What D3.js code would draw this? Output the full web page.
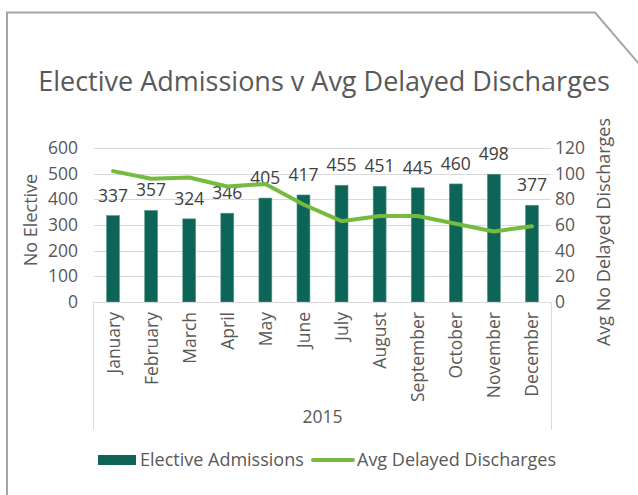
<!DOCTYPE html>
<html>
<head>
<meta charset="utf-8">
<script src="https://cdn.jsdelivr.net/npm/d3@7"></script>
<style>
  html, body { margin: 0; padding: 0; background: #fff; }
  svg { display: block; font-family: "Open Sans", "Noto Sans", sans-serif; }
</style>
</head>
<body>
<div id="chart"></div>
<script>
const months = ["January","February","March","April","May","June","July","August","September","October","November","December"];
const electiveAdmissions = [337,357,324,346,405,417,455,451,445,460,498,377];
const avgDelayedDischarges = [102,96,97,90,92,76,63,67,67,61,55,59];
const leftTicks = [0,100,200,300,400,500,600];
const rightTicks = [0,20,40,60,80,100,120];
const titleText = "Elective Admissions v Avg Delayed Discharges";
const yearLabel = "2015";

const W = 638, H = 495;
const m = { left: 94, right: 551, top: 148, bottom: 302 };
const FS = 17.5;
const textColor = "#595959";

const svg = d3.select("#chart").append("svg").attr("width", W).attr("height", H);

// frame
svg.append("path")
  .attr("d", `M7,${H} L7,12.5 L595,12.5 L639,64`)
  .attr("fill", "none").attr("stroke", "#a6a6a6").attr("stroke-width", 2);

const x = d3.scaleBand().domain(months).range([m.left, m.right]).paddingInner(0.66).paddingOuter(0.33);
const yL = d3.scaleLinear().domain([0, 600]).range([m.bottom, m.top]);
const yR = d3.scaleLinear().domain([0, 120]).range([m.bottom, m.top]);

// title
svg.append("text").attr("x", 324).attr("y", 91).attr("text-anchor", "middle")
  .attr("font-size", 27).attr("fill", textColor).text(titleText);

// gridlines
svg.append("g").selectAll("line").data(leftTicks.slice(1)).join("line")
  .attr("x1", m.left).attr("x2", m.right)
  .attr("y1", d => Math.round(yL(d)) + 0.5).attr("y2", d => Math.round(yL(d)) + 0.5)
  .attr("stroke", "#d9d9d9").attr("stroke-width", 1);

// left axis
const gL = svg.append("g").attr("transform", `translate(${m.left},0)`)
  .call(d3.axisLeft(yL).tickValues(leftTicks).tickSize(0).tickPadding(16));
gL.select(".domain").remove();
gL.selectAll("text").attr("font-size", FS).attr("fill", textColor).attr("font-family", "Open Sans, sans-serif");

// right axis
const gR = svg.append("g").attr("transform", `translate(${m.right},0)`)
  .call(d3.axisRight(yR).tickValues(rightTicks).tickSize(0).tickPadding(4));
gR.select(".domain").remove();
gR.selectAll("text").attr("font-size", FS).attr("fill", textColor).attr("font-family", "Open Sans, sans-serif");

// axis titles
svg.append("text").attr("transform", `translate(37,220) rotate(-90)`)
  .attr("text-anchor", "middle").attr("font-size", 18).attr("fill", textColor).text("No Elective");
svg.append("text").attr("transform", `translate(610,232) rotate(-90)`)
  .attr("text-anchor", "middle").attr("font-size", 18).attr("fill", textColor).text("Avg No Delayed Discharges");

// bars
svg.append("g").selectAll("rect").data(electiveAdmissions).join("rect")
  .attr("x", (d, i) => x(months[i]))
  .attr("y", d => yL(d))
  .attr("width", x.bandwidth())
  .attr("height", d => yL(0) - yL(d))
  .attr("fill", "#0d6557")
  .attr("stroke", "#5f9a92").attr("stroke-width", 0.6);

// bar labels
svg.append("g").selectAll("text").data(electiveAdmissions).join("text")
  .attr("x", (d, i) => x(months[i]) + x.bandwidth() / 2)
  .attr("y", d => yL(d) - 14)
  .attr("text-anchor", "middle").attr("font-size", FS).attr("fill", "#404040").text(d => d);

// category axis baseline and group box
svg.append("line").attr("x1", m.left).attr("x2", m.right).attr("y1", m.bottom + 0.5).attr("y2", m.bottom + 0.5)
  .attr("stroke", "#d9d9d9");
svg.append("line").attr("x1", m.left - 0.5).attr("x2", m.left - 0.5).attr("y1", m.bottom).attr("y2", 430)
  .attr("stroke", "#d9d9d9");
svg.append("line").attr("x1", m.right + 0.5).attr("x2", m.right + 0.5).attr("y1", m.bottom).attr("y2", 430)
  .attr("stroke", "#d9d9d9");

// month labels
svg.append("g").selectAll("text").data(months).join("text")
  .attr("transform", d => `translate(${x(d) + x.bandwidth() / 2 + 6.5},${m.bottom + 10}) rotate(-90)`)
  .attr("text-anchor", "end").attr("font-size", FS).attr("fill", textColor).text(d => d);

svg.append("text").attr("x", (m.left + m.right) / 2).attr("y", 423).attr("text-anchor", "middle")
  .attr("font-size", FS).attr("fill", textColor).text(yearLabel);

// line
const line = d3.line()
  .x((d, i) => x(months[i]) + x.bandwidth() / 2)
  .y(d => yR(d));
svg.append("path").datum(avgDelayedDischarges).attr("d", line)
  .attr("fill", "none").attr("stroke", "#76bb40").attr("stroke-width", 4).attr("stroke-linejoin", "round").attr("stroke-linecap", "round");

// legend
const lg = svg.append("g");
lg.append("rect").attr("x", 98).attr("y", 455).attr("width", 38).attr("height", 10).attr("fill", "#0d6557");
lg.append("text").attr("x", 140).attr("y", 466).attr("font-size", 18).attr("fill", textColor).text("Elective Admissions");
lg.append("line").attr("x1", 313).attr("x2", 353).attr("y1", 460).attr("y2", 460)
  .attr("stroke", "#76bb40").attr("stroke-width", 4).attr("stroke-linecap", "round");
lg.append("text").attr("x", 357).attr("y", 466).attr("font-size", 18).attr("fill", textColor).text("Avg Delayed Discharges");
</script>
</body>
</html>
